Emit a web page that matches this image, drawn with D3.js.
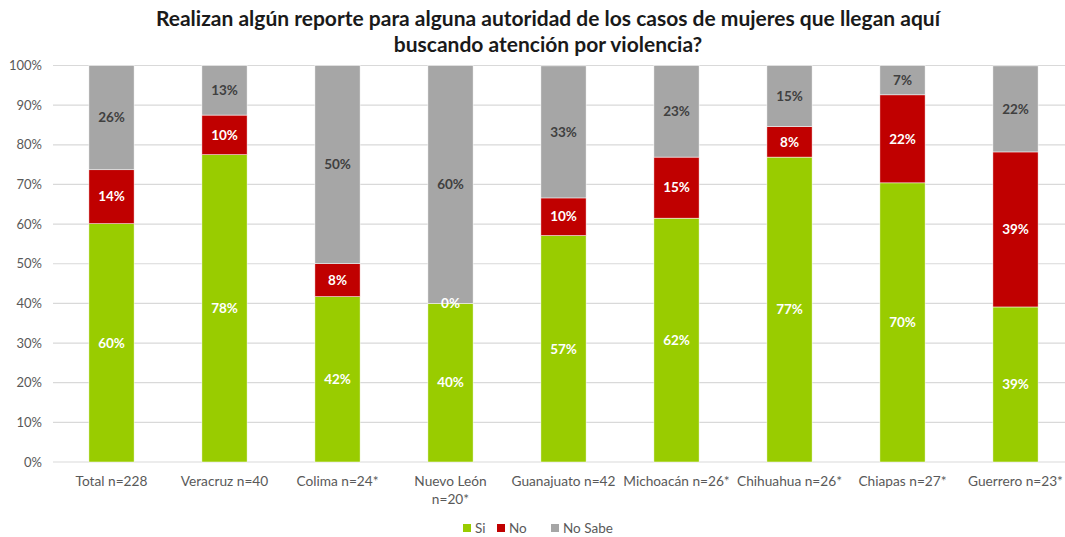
<!DOCTYPE html>
<html>
<head>
<meta charset="utf-8">
<script src="https://cdn.jsdelivr.net/npm/d3@7"></script>
<style>
  html, body { margin: 0; padding: 0; background: #fff; }
  svg { display: block; font-family: Lato, "Open Sans", sans-serif; }
</style>
</head>
<body>
<svg id="chart" width="1065" height="537"></svg>
<script>
// Categories (states) and sample sizes
const categories = ["Total n=228", "Veracruz n=40", "Colima n=24*", "Nuevo León n=20*", "Guanajuato n=42",
                    "Michoacán n=26*", "Chihuahua n=26*", "Chiapas n=27*", "Guerrero n=23*"];
// Percentages per answer
const si      = [60.1, 77.5, 41.7, 40.0, 57.1, 61.5, 76.9, 70.4, 39.1];
const no      = [13.6, 10.0,  8.3,  0.0,  9.5, 15.4,  7.7, 22.2, 39.1];
const noSabe  = [26.3, 12.5, 50.0, 60.0, 33.3, 23.1, 15.4,  7.4, 21.7];
const seriesNames = ["Si", "No", "No Sabe"];
const yTicks = [0, 10, 20, 30, 40, 50, 60, 70, 80, 90, 100];
const title = ["Realizan algún reporte para alguna autoridad de los casos de mujeres que llegan aquí",
               "buscando atención por violencia?"];

const colors = { "Si": "#99cc00", "No": "#c00000", "No Sabe": "#a6a6a6" };
const labelColors = { "Si": "#ffffff", "No": "#ffffff", "No Sabe": "#404040" };

const rows = categories.map((c, i) => ({ cat: c, "Si": si[i], "No": no[i], "No Sabe": noSabe[i] }));
const stacked = d3.stack().keys(seriesNames)(rows);

const svg = d3.select("#chart");
const x = d3.scaleBand().domain(categories).range([55, 1072]).paddingInner(0.6).paddingOuter(0.3);
const y = d3.scaleLinear().domain([0, 100]).range([462, 65.5]);

// Title
svg.append("text")
  .attr("x", 548).attr("y", 26)
  .attr("text-anchor", "middle")
  .attr("font-size", 21).attr("font-weight", "bold").attr("fill", "#1a1a1a")
  .selectAll("tspan").data(title).join("tspan")
  .attr("x", 548).attr("dy", (d, i) => i ? 26 : 0)
  .text(d => d);

// Gridlines
svg.append("g").selectAll("line").data(yTicks).join("line")
  .attr("x1", 53).attr("x2", 1065)
  .attr("y1", d => y(d)).attr("y2", d => y(d))
  .attr("stroke", "#d9d9d9").attr("stroke-width", 1.2);

// Y axis labels
svg.append("g").selectAll("text").data(yTicks).join("text")
  .attr("x", 42).attr("y", d => y(d)).attr("dy", "0.35em")
  .attr("text-anchor", "end").attr("font-size", 13).attr("fill", "#595959")
  .text(d => d + "%");

// Bars
const groups = svg.append("g").selectAll("g").data(stacked).join("g")
  .attr("fill", d => colors[d.key]);
groups.selectAll("rect").data(d => d).join("rect")
  .attr("x", d => x(d.data.cat))
  .attr("width", x.bandwidth())
  .attr("y", d => y(d[1]))
  .attr("height", d => y(d[0]) - y(d[1]))
  .attr("stroke", "#ffffff").attr("stroke-width", 0.5);

// Segment value labels
svg.append("g").selectAll("g").data(stacked).join("g")
  .each(function (s) {
    d3.select(this).selectAll("text").data(s).join("text")
      .attr("x", d => x(d.data.cat) + x.bandwidth() / 2)
      .attr("y", d => (y(d[0]) + y(d[1])) / 2)
      .attr("dy", "0.35em")
      .attr("text-anchor", "middle")
      .attr("font-size", 13.5).attr("font-weight", "bold")
      .attr("fill", labelColors[s.key])
      .text(d => Math.round(d.data[s.key]) + "%");
  });

// X axis labels (wrap the long one onto two lines)
svg.append("g").selectAll("text").data(categories).join("text")
  .attr("x", d => x(d) + x.bandwidth() / 2)
  .attr("y", 486)
  .attr("text-anchor", "middle").attr("font-size", 13.7).attr("fill", "#595959")
  .each(function (d) {
    const parts = d === "Nuevo León n=20*" ? ["Nuevo León", "n=20*"] : [d];
    d3.select(this).selectAll("tspan").data(parts).join("tspan")
      .attr("x", x(d) + x.bandwidth() / 2)
      .attr("dy", (p, i) => i ? 18 : 0)
      .text(p => p);
  });

// Legend
const legendX = [463, 497, 551];
const lg = svg.append("g").selectAll("g").data(seriesNames).join("g")
  .attr("transform", (d, i) => `translate(${legendX[i]},528)`);
lg.append("rect").attr("x", 0).attr("y", -4).attr("width", 8).attr("height", 8)
  .attr("fill", d => colors[d]);
lg.append("text").attr("x", 12).attr("y", 0).attr("dy", "0.35em")
  .attr("font-size", 13.5).attr("fill", "#595959").text(d => d);
</script>
</body>
</html>
